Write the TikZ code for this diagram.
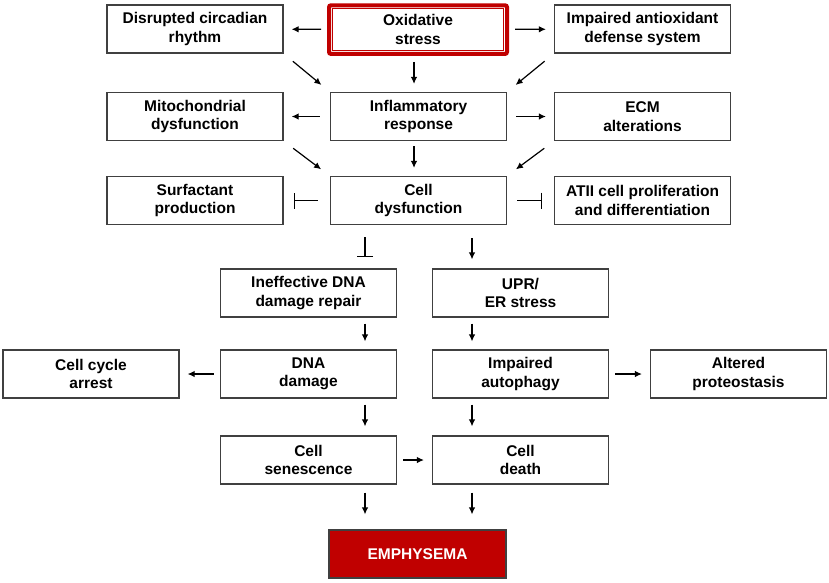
\documentclass[tikz,border=0pt]{standalone}
\usepackage{fontspec}
\setmainfont{Liberation Sans}
\usetikzlibrary{arrows.meta, calc}

\definecolor{darkred}{RGB}{192,0,0}
\definecolor{boxgray}{RGB}{64,64,64}

\tikzset{
  factor/.style={draw=boxgray, line width=1.2pt, minimum width=176pt, minimum height=48pt,
    inner sep=0pt, align=center, font=\fontsize{15.5}{18.5}\selectfont\bfseries},
  arr/.style={line width=1.2pt, -{Latex[length=7pt,width=6.5pt]}, shorten <=6pt, shorten >=8pt},
  diag/.style={arr, shorten <=12pt, shorten >=11pt},
  inhib/.style={line width=1.2pt, -{Bar[width=16pt]}, shorten <=11pt, shorten >=11pt},
}

\begin{document}
\begin{tikzpicture}[x=1pt, y=-1pt]
    \useasboundingbox (0,0) rectangle (829,582);

    % Top row
    \node[factor, draw=darkred, line width=4pt, rounded corners=2pt,
          minimum width=178pt, minimum height=48.7pt] (oxi) at (418,29.6) {Oxidative\\stress};
    \draw[darkred, line width=1.2pt] ($(oxi.north west)+(5.3pt,-5.3pt)$) rectangle ($(oxi.south east)+(-5.3pt,5.3pt)$);
    \node[factor] (disr) at (195,29) {Disrupted circadian\\rhythm};
    \node[factor] (imp) at (642.5,29) {Impaired antioxidant\\defense system};

    % Second row
    \node[factor] (infl) at (418.5,116.5) {Inflammatory\\response};
    \node[factor] (mito) at (195,116.5) {Mitochondrial\\dysfunction};
    \node[factor] (ecm) at (642.5,116.5) {ECM\\alterations};

    % Third row
    \node[factor] (cell) at (418.5,200.5) {Cell\\dysfunction};
    \node[factor] (surf) at (195,200.5) {Surfactant\\production};
    \node[factor] (atii) at (642.5,200.5) {ATII cell proliferation\\and differentiation};

    % Lower part
    \node[factor] (ineff) at (308.5,293) {Ineffective DNA\\damage repair};
    \node[factor] (upr) at (520.5,293) {UPR/\\ER stress};
    \node[factor] (dna) at (308.5,374) {DNA\\damage};
    \node[factor] (ccarr) at (91,374) {Cell cycle\\arrest};
    \node[factor] (autoph) at (520.5,374) {Impaired\\autophagy};
    \node[factor] (prot) at (738.5,374) {Altered\\proteostasis};
    \node[factor] (sen) at (308.5,460) {Cell\\senescence};
    \node[factor] (death) at (520.5,460) {Cell\\death};
    \node[factor, fill=darkred, text=white, minimum width=177pt] (emph) at (417.5,554) {EMPHYSEMA};

    % Lanes for the vertical connectors
    \coordinate (laneL) at (365,0);
    \coordinate (laneM) at (414,0);
    \coordinate (laneR) at (472,0);

    % Connectors
    \draw[arr] (oxi) -- (disr);
    \draw[arr] (oxi) -- (imp);
    \draw[arr] (oxi.south -| laneM) -- (infl.north -| laneM);
    \draw[diag] (disr.south east) -- (infl.north west);
    \draw[diag] (imp.south west) -- (infl.north east);

    \draw[arr, shorten <=10pt] (infl) -- (mito);
    \draw[arr, shorten <=9pt] (infl) -- (ecm);
    \draw[arr, shorten <=5pt] (infl.south -| laneM) -- (cell.north -| laneM);
    \draw[diag] (mito.south east) -- (cell.north west);
    \draw[diag] (ecm.south west) -- (cell.north east);

    \draw[inhib, shorten <=12pt, shorten >=10pt] (cell) -- (surf);
    \draw[inhib, shorten <=10pt, shorten >=12pt] (cell) -- (atii);
    \draw[inhib, shorten <=12pt, shorten >=11pt] (cell.south -| laneL) -- (ineff.north -| laneL);
    \draw[arr, shorten <=13pt, shorten >=9pt] (cell.south -| laneR) -- (upr.north -| laneR);

    \draw[arr] (ineff.south -| laneL) -- (dna.north -| laneL);
    \draw[arr] (upr.south -| laneR) -- (autoph.north -| laneR);
    \draw[arr] (dna) -- (ccarr);
    \draw[arr] (autoph) -- (prot);
    \draw[arr, shorten >=9pt] (dna.south -| laneL) -- (sen.north -| laneL);
    \draw[arr, shorten >=9pt] (autoph.south -| laneR) -- (death.north -| laneR);
    \draw[arr] (sen) -- (death);

    \draw[arr, shorten <=8pt, shorten >=15pt] (sen.south -| laneL) -- (emph.north -| laneL);
    \draw[arr, shorten <=8pt, shorten >=15pt] (death.south -| laneR) -- (emph.north -| laneR);
\end{tikzpicture}
\end{document}
